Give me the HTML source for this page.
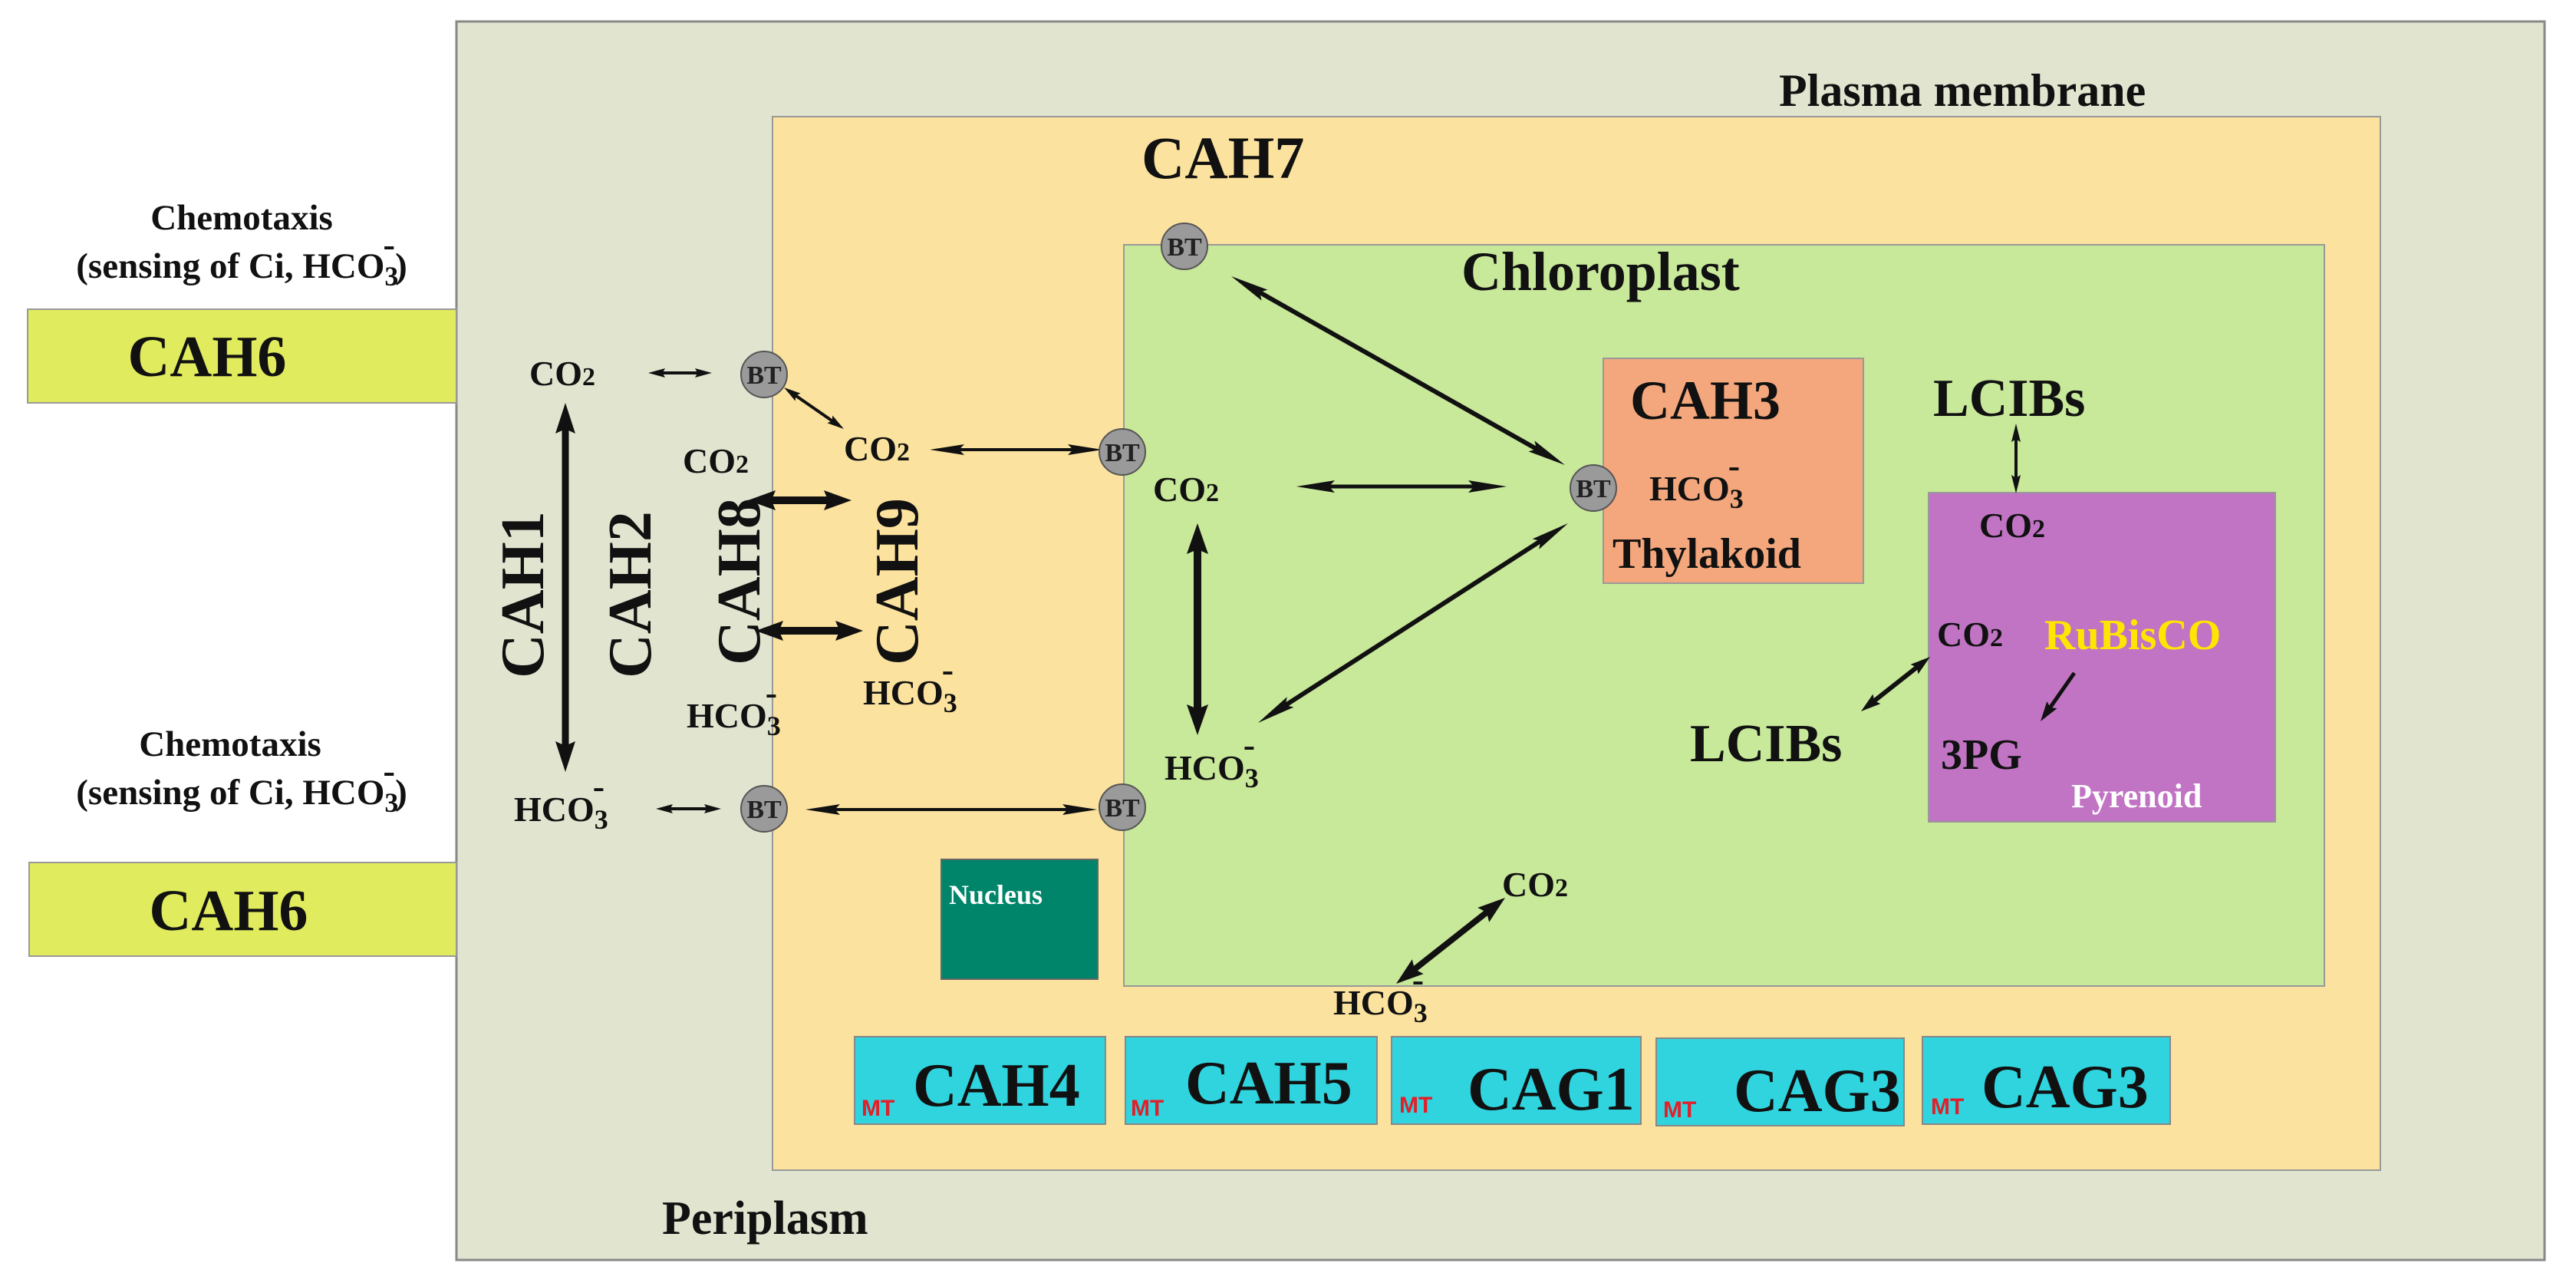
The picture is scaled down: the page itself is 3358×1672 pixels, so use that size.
<!DOCTYPE html>
<html><head><meta charset="utf-8"><style>
html,body{margin:0;padding:0;background:#fff}
svg{display:block}
text{font-family:"Liberation Serif",serif;font-weight:bold}
</style></head><body>
<svg id="s" width="3358" height="1672" viewBox="0 0 3358 1672" xmlns="http://www.w3.org/2000/svg">
<rect x="595" y="28" width="2722" height="1614" fill="#e1e5d0" stroke="#888" stroke-width="3"/>
<rect x="1007" y="152" width="2096" height="1373" fill="#fbe29e" stroke="#999" stroke-width="2"/>
<rect x="1465" y="319" width="1565" height="966" fill="#c8e89a" stroke="#999" stroke-width="2"/>
<rect x="2090" y="467" width="339" height="293" fill="#f4a77c" stroke="#999" stroke-width="2"/>
<rect x="2514" y="642" width="452" height="429" fill="#c174c4" stroke="#999" stroke-width="2"/>
<rect x="1227" y="1120" width="204" height="156" fill="#00856a" stroke="#666" stroke-width="2"/>
<rect x="36" y="403" width="559" height="122" fill="#e0eb5d" stroke="#999" stroke-width="2"/>
<rect x="38" y="1124" width="557" height="122" fill="#e0eb5d" stroke="#999" stroke-width="2"/>
<g fill="#2fd4df" stroke="#888" stroke-width="2">
<rect x="1114" y="1351" width="327" height="114"/>
<rect x="1467" y="1351" width="328" height="114"/>
<rect x="1814" y="1351" width="325" height="114"/>
<rect x="2159" y="1353" width="323" height="114"/>
<rect x="2506" y="1351" width="323" height="114"/>
</g>
<g id="arrows"></g>
<g fill="#9a9a9a" stroke="#555" stroke-width="2">
<circle cx="1544" cy="321" r="30"/><circle cx="996" cy="488" r="30"/><circle cx="1463" cy="589" r="30"/>
<circle cx="2077" cy="636" r="30"/><circle cx="996" cy="1054" r="30"/><circle cx="1463" cy="1052" r="30"/>
</g>
<g font-size="34" text-anchor="middle" fill="#222">
<text x="1544" y="333">BT</text><text x="996" y="500">BT</text><text x="1463" y="601">BT</text>
<text x="2077" y="648">BT</text><text x="996" y="1066">BT</text><text x="1463" y="1064">BT</text>
</g>
<g fill="#111">
<text x="2319" y="138" font-size="60">Plasma membrane</text>
<text x="1488" y="232" font-size="78">CAH7</text>
<text x="1905" y="378" font-size="72">Chloroplast</text>
<text x="863" y="1608" font-size="62">Periplasm</text>
<text x="315" y="299" font-size="47" text-anchor="middle">Chemotaxis</text>
<text x="315" y="362" font-size="47" text-anchor="middle">(sensing of Ci, HCO<tspan font-size="36" dy="10">3</tspan><tspan dx="-20" dy="-38">-</tspan><tspan dy="28">)</tspan></text>
<text x="300" y="985" font-size="47" text-anchor="middle">Chemotaxis</text>
<text x="315" y="1048" font-size="47" text-anchor="middle">(sensing of Ci, HCO<tspan font-size="36" dy="10">3</tspan><tspan dx="-20" dy="-38">-</tspan><tspan dy="28">)</tspan></text>
<text x="270" y="490" font-size="76" text-anchor="middle">CAH6</text>
<text x="298" y="1212" font-size="76" text-anchor="middle">CAH6</text>
<g font-size="80" text-anchor="middle">
<text transform="translate(708,775) rotate(-90)">CAH1</text>
<text transform="translate(848,775) rotate(-90)">CAH2</text>
<text transform="translate(990,758) rotate(-90)">CAH8</text>
<text transform="translate(1196,758) rotate(-90)">CAH9</text>
</g>
<g font-size="46">
<text x="690" y="502">CO<tspan font-size="34">2</tspan></text>
<text x="890" y="616">CO<tspan font-size="34">2</tspan></text>
<text x="1100" y="600">CO<tspan font-size="34">2</tspan></text>
<text x="1503" y="653">CO<tspan font-size="34">2</tspan></text>
<text x="2580" y="700">CO<tspan font-size="34">2</tspan></text>
<text x="2525" y="842">CO<tspan font-size="34">2</tspan></text>
<text x="1958" y="1168">CO<tspan font-size="34">2</tspan></text>
</g>
<g font-size="46">
<text x="670" y="1070">HCO<tspan font-size="36" dy="10">3</tspan><tspan dx="-20" dy="-40">-</tspan></text>
<text x="895" y="948">HCO<tspan font-size="36" dy="10">3</tspan><tspan dx="-20" dy="-40">-</tspan></text>
<text x="1125" y="918">HCO<tspan font-size="36" dy="10">3</tspan><tspan dx="-20" dy="-40">-</tspan></text>
<text x="1518" y="1016">HCO<tspan font-size="36" dy="10">3</tspan><tspan dx="-20" dy="-40">-</tspan></text>
<text x="2150" y="652">HCO<tspan font-size="36" dy="10">3</tspan><tspan dx="-20" dy="-40">-</tspan></text>
<text x="1738" y="1322">HCO<tspan font-size="36" dy="10">3</tspan><tspan dx="-20" dy="-40">-</tspan></text>
</g>
<text x="2125" y="546" font-size="72">CAH3</text>
<text x="2102" y="740" font-size="56">Thylakoid</text>
<text x="2520" y="542" font-size="70">LCIBs</text>
<text x="2203" y="992" font-size="70">LCIBs</text>
<text x="2530" y="1002" font-size="56">3PG</text>
<g font-size="80">
<text x="1190" y="1441">CAH4</text>
<text x="1545" y="1438">CAH5</text>
<text x="1913" y="1446">CAG1</text>
<text x="2260" y="1448">CAG3</text>
<text x="2583" y="1443">CAG3</text>
</g>
</g>
<text x="2665" y="846" font-size="56" fill="#ffe600">RuBisCO</text>
<text x="2700" y="1052" font-size="44" fill="#ffffff">Pyrenoid</text>
<text x="1237" y="1178" font-size="36" fill="#ffffff">Nucleus</text>
<g font-size="30" fill="#e0202a">
<text x="1123" y="1454" style="font-family:'Liberation Sans',sans-serif">MT</text>
<text x="1474" y="1454" style="font-family:'Liberation Sans',sans-serif">MT</text>
<text x="1824" y="1450" style="font-family:'Liberation Sans',sans-serif">MT</text>
<text x="2168" y="1456" style="font-family:'Liberation Sans',sans-serif">MT</text>
<text x="2517" y="1452" style="font-family:'Liberation Sans',sans-serif">MT</text>
</g>
</svg>
<script>
(function(){
var A=[
[845,486,928,486,4,22,12,1],
[1022,505,1100,559,4,22,12,1],
[1212,586,1437,586,4,45,14,1],
[737,525,737,1006,9,40,26,1],
[975,652,1110,652,10,36,26,1],
[985,822,1125,822,10,36,26,1],
[855,1054,940,1054,4,22,12,1],
[1050,1055,1430,1055,4,45,14,1],
[1605,360,2040,606,6,50,16,1],
[1690,634,1964,634,5,50,16,1],
[1561,682,1561,958,10,40,28,1],
[1640,942,2044,682,6,50,16,1],
[2628,552,2628,643,4,24,12,1],
[2426,927,2516,856,6,26,16,1],
[2704,877,2660,940,5,26,16,0],
[1820,1282,1962,1170,8,36,24,1]];
var g=document.getElementById('arrows'),ns='http://www.w3.org/2000/svg';
function head(x,y,ux,uy,L,W){
 var bx=x-ux*L,by=y-uy*L,px=-uy,py=ux;
 var p=document.createElementNS(ns,'polygon');
 p.setAttribute('points',x+','+y+' '+(bx+px*W/2)+','+(by+py*W/2)+' '+(bx+px*W/2*0.0+ux*L*0.15)+','+(by+py*W/2*0.0+uy*L*0.15)+' '+(bx-px*W/2)+','+(by-py*W/2));
 p.setAttribute('fill','#111');g.appendChild(p);}
A.forEach(function(a){
 var dx=a[2]-a[0],dy=a[3]-a[1],l=Math.sqrt(dx*dx+dy*dy),ux=dx/l,uy=dy/l;
 var s=a[7]?a[5]*0.8:0;
 var ln=document.createElementNS(ns,'line');
 ln.setAttribute('x1',a[0]+ux*s);ln.setAttribute('y1',a[1]+uy*s);
 ln.setAttribute('x2',a[2]-ux*a[5]*0.8);ln.setAttribute('y2',a[3]-uy*a[5]*0.8);
 ln.setAttribute('stroke','#111');ln.setAttribute('stroke-width',a[4]);g.appendChild(ln);
 head(a[2],a[3],ux,uy,a[5],a[6]);
 if(a[7])head(a[0],a[1],-ux,-uy,a[5],a[6]);
});
})();
</script>
</body></html>
